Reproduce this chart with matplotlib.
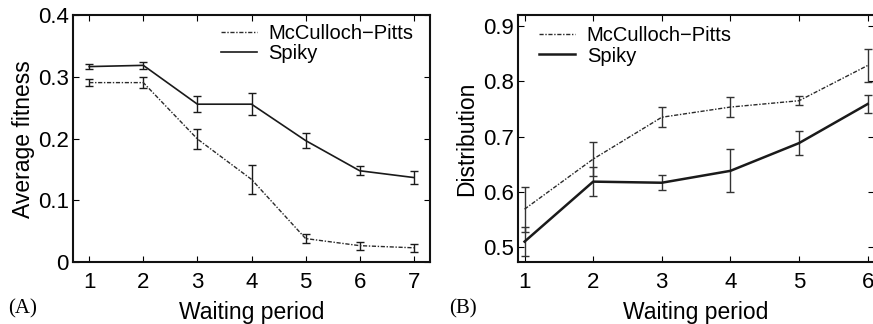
import matplotlib
matplotlib.use("Agg")
import matplotlib.pyplot as plt

plt.rcParams['font.family'] = ['Liberation Sans', 'DejaVu Sans']

# Panel A data
xA = [1, 2, 3, 4, 5, 6, 7]
spikyA = [0.317, 0.319, 0.256, 0.256, 0.197, 0.148, 0.137]
spikyA_err = [0.004, 0.0057, 0.013, 0.018, 0.0127, 0.0073, 0.0103]
mpA = [0.291, 0.291, 0.1995, 0.134, 0.038, 0.0265, 0.023]
mpA_err = [0.0051, 0.0084, 0.017, 0.0236, 0.007, 0.0065, 0.006]

# Panel B data
xB = [1, 2, 3, 4, 5, 6]
mpB = [0.568, 0.659, 0.735, 0.7535, 0.765, 0.829]
mpB_err = [0.041, 0.031, 0.018, 0.018, 0.0085, 0.030]
spikyB = [0.509, 0.618, 0.616, 0.6376, 0.688, 0.759]
spikyB_err = [0.026, 0.026, 0.0133, 0.039, 0.022, 0.016]

labels = ["McCulloch\u2212Pitts", "Spiky"]
dashdot = (0, (3, 1.2, 1, 1.2))
col = '#1a1a1a'

fig = plt.figure(figsize=(8.73, 3.24), dpi=100)
axA = fig.add_axes([0.0836, 0.1914, 0.409, 0.761])
axB = fig.add_axes([0.593, 0.1914, 0.4087, 0.761])

def style(ax):
    ax.tick_params(direction='in', length=4, width=0.8, labelsize=16,
                   top=True, right=True)
    ax.tick_params(axis='x', pad=7)
    ax.tick_params(axis='y', pad=3)
    for s in ax.spines.values():
        s.set_linewidth(1.5)
        s.set_color('#111111')

# Panel A
axA.errorbar(xA, mpA, yerr=mpA_err, color='#2a2a2a', lw=1.0, ls=dashdot,
             capsize=3, elinewidth=1.0, ecolor=col, label=labels[0])
axA.errorbar(xA, spikyA, yerr=spikyA_err, color=col, lw=1.2, ls='-',
             capsize=3, elinewidth=1.0, ecolor=col, label=labels[1])
axA.set_xlim(0.7, 7.3)
axA.set_ylim(0, 0.4)
axA.set_xticks(xA)
axA.set_yticks([0, 0.1, 0.2, 0.3, 0.4])
axA.set_yticklabels(['0', '0.1', '0.2', '0.3', '0.4'])
axA.set_xlabel('Waiting period', fontsize=16.5, labelpad=6)
axA.set_ylabel('Average fitness', fontsize=16.5, labelpad=2)
style(axA)
hA, lA = axA.get_legend_handles_labels()
hA = [h[0] for h in hA]
axA.legend(hA, lA, loc='upper right', frameon=False, fontsize=14.5,
           handlelength=1.75, handletextpad=0.6, borderaxespad=0.15,
           labelspacing=0.05, bbox_to_anchor=(0.985, 1.01))

# Panel B
axB.errorbar(xB, mpB, yerr=mpB_err, color='#2a2a2a', lw=1.0, ls=dashdot,
             capsize=3, elinewidth=1.0, ecolor='#333333', label=labels[0])
axB.errorbar(xB, spikyB, yerr=spikyB_err, color=col, lw=1.8, ls='-',
             capsize=3, elinewidth=1.0, ecolor='#333333', label=labels[1])
axB.set_xlim(0.9, 6.1)
axB.set_ylim(0.472, 0.92)
axB.set_xticks(xB)
axB.set_yticks([0.5, 0.6, 0.7, 0.8, 0.9])
axB.set_yticklabels(['0.5', '0.6', '0.7', '0.8', '0.9'])
axB.set_xlabel('Waiting period', fontsize=16.5, labelpad=6)
axB.set_ylabel('Distribution', fontsize=16.5, labelpad=3)
style(axB)
hB, lB = axB.get_legend_handles_labels()
hB = [h[0] for h in hB]
axB.legend(hB, lB, loc='upper left', frameon=False, fontsize=14.5,
           handlelength=1.75, handletextpad=0.6, borderaxespad=0.15,
           labelspacing=0.05, bbox_to_anchor=(0.03, 1.0))

fig.text(8 / 873, 1 - 309 / 324, '(A)', family='Liberation Serif',
         fontsize=15, va='center', ha='left')
fig.text(449 / 873, 1 - 309 / 324, '(B)', family='Liberation Serif',
         fontsize=15, va='center', ha='left')

fig.savefig('out.png', dpi=100)
